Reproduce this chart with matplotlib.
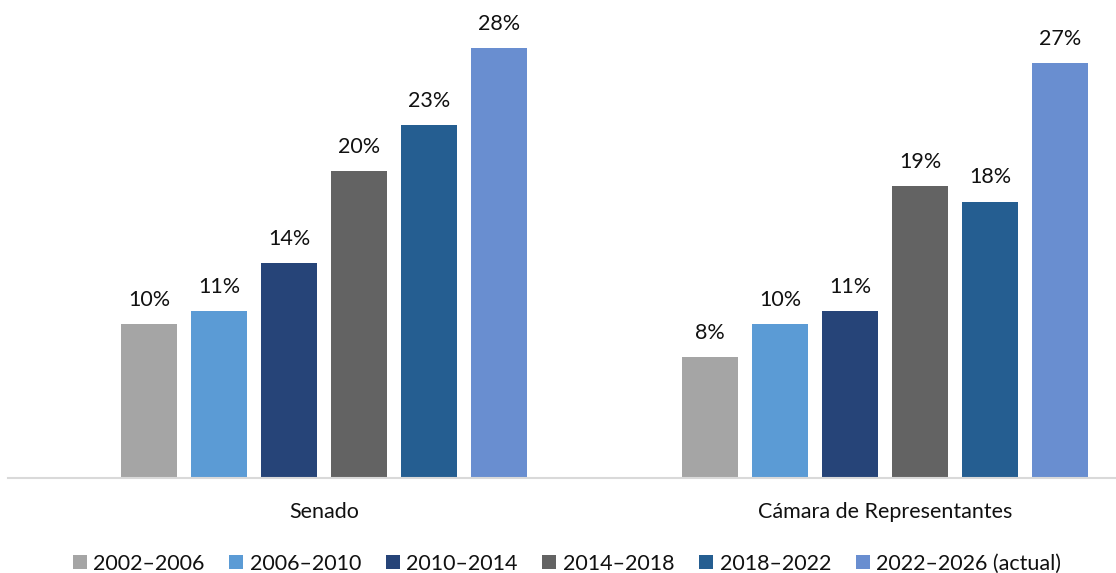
import matplotlib
matplotlib.use("Agg")
import matplotlib.pyplot as plt
import numpy as np

categories = ["Senado", "Cámara de Representantes"]
series_labels = ["2002–2006", "2006–2010", "2010–2014", "2014–2018", "2018–2022", "2022–2026 (actual)"]
senado = [10.0, 10.9, 14.0, 20.0, 23.0, 28.0]
camara = [7.9, 10.0, 10.9, 19.0, 18.0, 27.0]
colors = ["#A5A5A5", "#5B9BD5", "#264478", "#636363", "#255E91", "#698ED0"]

plt.rcParams['font.family'] = ['Lato', 'DejaVu Sans']
FS = 15.5

W, H = 1116, 573
fig = plt.figure(figsize=(W / 100, H / 100), dpi=100)
ax = fig.add_axes([8 / W, 95 / H, (1116 - 8) / W, (478 - 10) / H])

x = np.arange(len(categories))
step = 70 / 560.5
width = 56 / 560.5
for i, lab in enumerate(series_labels):
    vals = [senado[i], camara[i]]
    pos = x + (i - 2.5) * step
    bars = ax.bar(pos, vals, width=width, color=colors[i], label=lab, zorder=2)
    for b, v in zip(bars, vals):
        ax.annotate(f"{round(v):d}%", (b.get_x() + b.get_width() / 2, v),
                    xytext=(0, 13), textcoords="offset points",
                    ha="center", va="baseline", fontsize=FS, color="#111111")

ax.set_xlim((8 - 324.5) / 560.5, (1116 - 324.5) / 560.5)
ax.set_ylim(0, 468 / 15.36)
ax.set_xticks(x)
ax.set_xticklabels(categories, fontsize=FS, color="#111111")
ax.tick_params(axis="x", length=0, pad=17)
ax.set_yticks([])
for s in ["top", "right", "left"]:
    ax.spines[s].set_visible(False)
ax.spines["bottom"].set_color("#D9D9D9")
ax.spines["bottom"].set_linewidth(1.5)

fig.legend(loc="lower center", ncol=6, frameon=False, fontsize=FS,
           bbox_to_anchor=(0.508, -0.035), handlelength=0.65, handleheight=0.65,
           handletextpad=0.3, columnspacing=1.15, labelcolor="#111111")

fig.savefig("out.png", dpi=100)
